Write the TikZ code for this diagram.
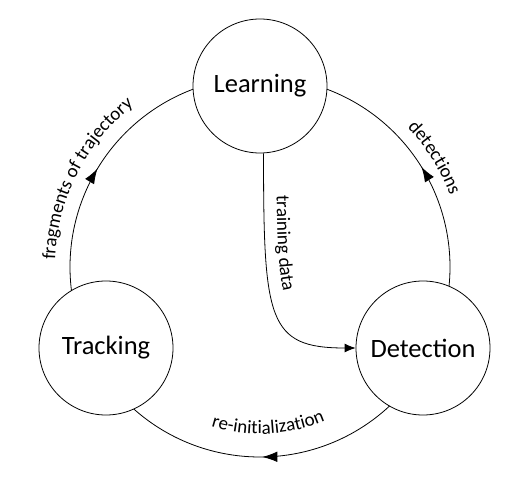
\documentclass[tikz,border=0pt]{standalone}
\usepackage{fontspec}
\setmainfont{Carlito}
\usetikzlibrary{arrows.meta,decorations.markings,decorations.text,calc}
\begin{document}
\begin{tikzpicture}[x=1pt,y=1pt,
  stage/.style={circle,draw,line width=0.8pt,minimum size=134pt,inner sep=0pt,
    font=\fontsize{26.5}{30}\selectfont},
  flow/.style={line width=0.8pt},
  midarrow/.style={postaction={decorate},decoration={markings,
    mark=at position 0.5 with {\arrow{Latex[length=15pt,width=10.5pt]}}}},
  arclabel/.style={decorate,decoration={text along path,text align=center,
    text={|\fontsize{19}{22}\selectfont|#1}}},
]
\useasboundingbox (0,0) rectangle (505,477);
% centre of the big cycle
\coordinate (O) at (260,210);

\node[stage] (L) at (260,391) {Learning};
\node[stage] (T) at (106,129) {Tracking};
\node[stage] (D) at (423,129) {Detection};

% points where the cycle meets the stage circles
\coordinate (TL) at ($(O)+(187.1:190)$);
\coordinate (DL) at ($(O)+(-5.8:190)$);
\coordinate (DT) at ($(O)+(-47:190)$);

% cycle arcs
\draw[flow,midarrow] (TL) arc[start angle=187.1,end angle=110.6,radius=190];
\draw[flow,midarrow] (DL) arc[start angle=-5.8,end angle=69.4,radius=190];
\draw[flow,midarrow] (DT) arc[start angle=-47,end angle=-131.6,radius=190];

% training data link
\draw[flow,-{Latex[length=11pt,width=9pt]}] (L.-87) .. controls +(0,-167) and +(-88,0) .. (D.west);
\path[decorate,decoration={text along path,text align={left indent=42pt},raise=13pt,
  text={|\fontsize{19}{22}\selectfont|training data}}]
  (L.-87) .. controls +(0,-167) and +(-88,0) .. (D.west);

% arc labels
\path[arclabel={fragments of trajectory}] ($(O)+(190:205)$) arc[start angle=190,end angle=116,radius=205];
\path[arclabel={detections}] ($(O)+(60:203)$) arc[start angle=60,end angle=4,radius=203];
\path[arclabel={re-initialization}] ($(O)+(-120:167)$) arc[start angle=-120,end angle=-54,radius=167];
\end{tikzpicture}
\end{document}
